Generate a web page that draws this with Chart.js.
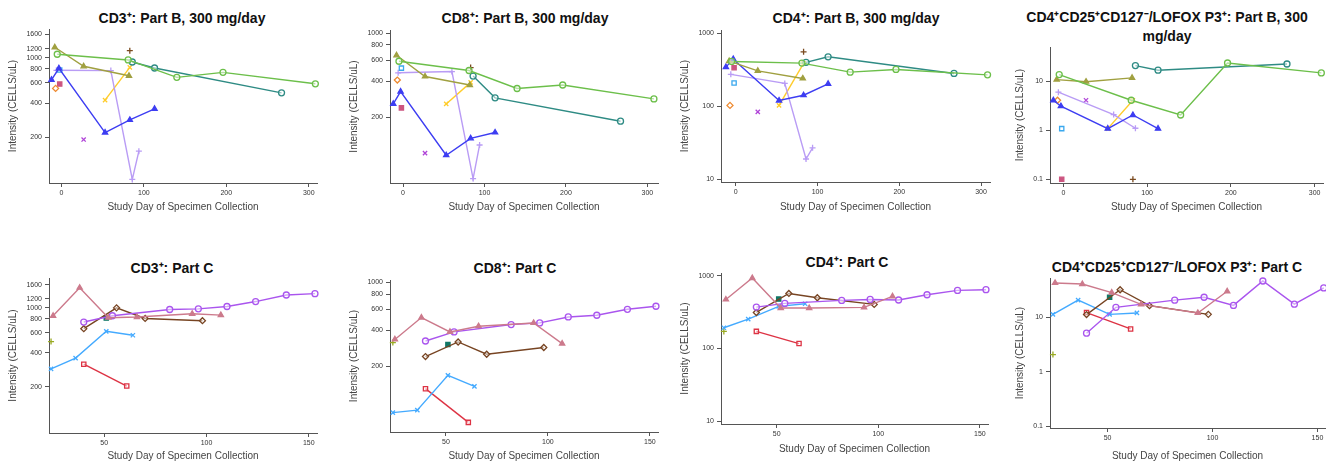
<!DOCTYPE html>
<html>
<head>
<meta charset="utf-8">
<script src="https://cdn.jsdelivr.net/npm/chart.js@4.4.0/dist/chart.umd.min.js"></script>
<style>
  body { margin: 0; width: 1326px; height: 465px; background: #fff; position: relative; overflow: hidden;
         font-family: 'Liberation Sans', Arial, sans-serif; }
  .ttl { position: absolute; transform: translate(-50%, -50%); font-weight: bold; font-size: 14px;
         color: #111; text-align: center; white-space: nowrap; line-height: 19px; }
</style>
</head>
<body>
<script>
// ---- Part B: study days per subject ----
const dB_green = [-5, 81, 140, 196, 308];
const dB_teal = [86, 113, 267];
const dB_olive = [-8, 27, 82];
const dB_blue = [-12, -3, 53, 83, 113];
const dB_ltblue = [-2];
const dB_lav = [-6, 60, 86, 94];
const dB_yellow = [53, 83];
const dB_brown = [83];
const dB_orange = [-7];
const dB_pink = [-2];
const dB_mag = [27];
const daysB = [dB_green, dB_teal, dB_olive, dB_blue, dB_ltblue, dB_lav, dB_yellow, dB_brown, dB_orange, dB_pink, dB_mag];

// values, same subject order as daysB
const cd3B = [[1070, 954, 672, 743, 590], [916, 811, 492], [1232, 840, 694], [640, 806, 221, 285, 356], [779],
  [775, 770, 86, 152], [425, 822], [1150], [538], [587], [192]];
const cd8B = [[586, 491, 348, 372, 285], [441, 291, 186], [657, 438, 372], [259, 328, 97, 134, 150], [514],
  [470, 481, 62, 118], [259, 391], [519], [409], [240], [101]];
const cd4B = [[412, 391, 294, 320, 270], [400, 477, 282], [417, 306, 241], [344, 443, 120, 142, 203], [209],
  [274, 206, 19, 27], [103, 387], [558], [103], [337], [84]];
const tregB = [[13.7, 4.1, 2.05, 23.6, 14.8], [20.9, 16.8, 22.5], [10.8, 9.8, 11.7], [4.1, 3.1, 1.08, 2.05, 1.08], [1.08],
  [6.0, 2.09, 1.1, null], [1.08, 4.1], [0.1], [4.1], [0.1], [4.1]];

// ---- Part C: study days per subject ----
const dC_mauve = [25, 38, 52, 66, 93, 107];
const dC_purple = [40, 54, 82, 96, 110, 124, 139, 153];
const dC_brown = [40, 56, 70, 98];
const dC_ltblue = [24, 36, 51, 64];
const dC_red = [40, 61];
const dC_teal = [51];
const dC_olive = [24];
const daysC = [dC_mauve, dC_purple, dC_brown, dC_ltblue, dC_red, dC_teal, dC_olive];

const cd3C = [[851, 1508, 818, 830, 887, 863], [749, 851, 967, 980, 1028, 1137, 1300, 1336], [654, 1000, 806, 770],
  [288, 359, 620, 572], [317, 203], [812], [503]];
const cd8C = [[335, 510, 387, 432, 460, 309], [325, 387, 446, 460, 516, 533, 598, 634], [241, 319, 252, 287],
  [82, 86, 168, 136], [130, 68], [304], [315]];
const cd4C = [[472, 930, 360, 360, 367, 520], [371, 417, 458, 472, 464, 548, 629, 643], [313, 571, 499, 404],
  [193, 254, 379, 412], [172, 117], [478], [172]];
const tregC = [[42.6, 40.7, 28.4, 17.2, 12, 30], [5.1, 15.2, 20.6, 23.3, 16.5, 46.3, 17.4, 34.5], [11.2, 32, 16.3, 11.3],
  [11.3, 20.6, 11.3, 12], [12.2, 6.1], [23.3], [2.07]];

// tick labels
const ticksCD3 = [200, 400, 600, 800, 1000, 1200, 1600];
const ticksCD8 = [200, 400, 600, 800, 1000];
const ticksDecade = [10, 100, 1000];
const ticksTreg = [0.1, 1, 10];
const ticksDayB = [0, 100, 200, 300];
const ticksDayC = [50, 100, 150];

// marker styles per subject
const stylesB = [
  { c: '#6cbf4a', p: 'circle', open: true },
  { c: '#2e8b84', p: 'circle', open: true },
  { c: '#a0a040', p: 'triangle' },
  { c: '#3d3df2', p: 'triangle' },
  { c: '#3aa8ee', p: 'rect', open: true },
  { c: '#b99cf5', p: 'cross' },
  { c: '#ffcc2a', p: 'crossRot' },
  { c: '#7a4a1e', p: 'cross' },
  { c: '#ee8a30', p: 'rectRot', open: true },
  { c: '#cc5580', p: 'rect' },
  { c: '#b044d8', p: 'crossRot' }
];
const stylesC = [
  { c: '#cc7a8c', p: 'triangle' },
  { c: '#aa55ee', p: 'circle', open: true },
  { c: '#774422', p: 'rectRot', open: true },
  { c: '#44aaff', p: 'crossRot' },
  { c: '#dd3344', p: 'rect', open: true },
  { c: '#117766', p: 'rect' },
  { c: '#99aa22', p: 'cross' }
];

const T4 = 'CD4\u207ACD25\u207ACD127\u207B/LOFOX P3\u207A';
const panels = [
  { title: 'CD3\u207A: Part B, 300 mg/day', tx: 182, ty: 18, L: 49, R: 317, T: 29, B: 183, xr: [-15, 310], yr: [80, 1780],
    yt: ticksCD3, xt: ticksDayB, days: daysB, vals: cd3B, st: stylesB, yo: 36, xo: 24 },
  { title: 'CD8\u207A: Part B, 300 mg/day', tx: 525, ty: 18, L: 390, R: 658, T: 30, B: 183, xr: [-16, 313], yr: [57, 1066],
    yt: ticksCD8, xt: ticksDayB, days: daysB, vals: cd8B, st: stylesB, yo: 36, xo: 24 },
  { title: 'CD4\u207A: Part B, 300 mg/day', tx: 856, ty: 18, L: 721, R: 990, T: 30, B: 182, xr: [-18, 311], yr: [9.2, 1110],
    yt: ticksDecade, xt: ticksDayB, days: daysB, vals: cd4B, st: stylesB, yo: 36, xo: 25 },
  { title: T4 + ': Part B, 300<br>mg/day', tx: 1167, ty: 27, L: 1050, R: 1323, T: 47, B: 183, xr: [-16, 310], yr: [0.084, 50],
    yt: ticksTreg, xt: ticksDayB, days: daysB, vals: tregB, st: stylesB, yo: 30, xo: 24 },
  { title: 'CD3\u207A: Part C', tx: 172, ty: 268, L: 49, R: 317, T: 278, B: 433, xr: [23, 154], yr: [78, 1838],
    yt: ticksCD3, xt: ticksDayC, days: daysC, vals: cd3C, st: stylesC, yo: 36, xo: 23 },
  { title: 'CD8\u207A: Part C', tx: 515, ty: 268, L: 390, R: 658, T: 280, B: 432, xr: [22.6, 154], yr: [56.5, 1050],
    yt: ticksCD8, xt: ticksDayC, days: daysC, vals: cd8C, st: stylesC, yo: 36, xo: 24 },
  { title: 'CD4\u207A: Part C', tx: 847, ty: 262, L: 721, R: 988, T: 273, B: 424, xr: [22.6, 154], yr: [9.2, 1090],
    yt: ticksDecade, xt: ticksDayC, days: daysC, vals: cd4C, st: stylesC, yo: 36, xo: 25 },
  { title: T4 + ': Part C', tx: 1177, ty: 267, L: 1050, R: 1325, T: 278, B: 428, xr: [22.6, 153.6], yr: [0.093, 52.5],
    yt: ticksTreg, xt: ticksDayC, days: daysC, vals: tregC, st: stylesC, yo: 30, xo: 28 }
];

Chart.defaults.font.family = "'Liberation Sans', Arial, sans-serif";
const YW = 46, XH = 40, PT = 10, PR = 12;

panels.forEach(p => {
  const t = document.createElement('div');
  t.className = 'ttl';
  t.style.left = p.tx + 'px';
  t.style.top = p.ty + 'px';
  t.innerHTML = p.title;
  document.body.appendChild(t);

  const cv = document.createElement('canvas');
  const w = p.R - p.L + YW + PR, h = p.B - p.T + PT + XH;
  cv.width = w; cv.height = h;
  cv.style.cssText = `position:absolute;left:${p.L - YW}px;top:${p.T - PT}px;width:${w}px;height:${h}px`;
  document.body.appendChild(cv);

  const datasets = p.st.map((s, k) => ({
    data: p.days[k].map((d, j) => ({ x: d, y: p.vals[k][j] })).filter(o => o.y != null),
    borderColor: s.c,
    backgroundColor: s.open ? 'rgba(255,255,255,0.5)' : s.c,
    pointStyle: s.p,
    pointRadius: 3,
    pointBorderWidth: 1.3,
    borderWidth: 1.4,
    tension: 0,
    clip: false
  }));

  new Chart(cv, {
    type: 'line',
    data: { datasets },
    options: {
      responsive: false,
      animation: false,
      layout: { padding: { left: 0, top: PT, right: PR, bottom: 0 } },
      plugins: { legend: { display: false }, tooltip: { enabled: false } },
      scales: {
        x: {
          type: 'linear', min: p.xr[0], max: p.xr[1],
          afterBuildTicks: sc => { sc.ticks = p.xt.map(v => ({ value: v })); },
          afterFit: sc => { sc.height = XH; sc.paddingLeft = 0; sc.paddingRight = 0; },
          ticks: { autoSkip: false, maxRotation: 0, padding: 2, color: '#333', font: { size: 7 } },
          grid: { display: true, drawOnChartArea: false, drawTicks: true, tickLength: 4, color: '#555' },
          border: { display: true, color: '#555', width: 1 },
          title: { display: true, text: 'Study Day of Specimen Collection', color: '#444', font: { size: 10 },
                   padding: { top: 0, bottom: XH - p.xo - 6 } }
        },
        y: {
          type: 'logarithmic', min: p.yr[0], max: p.yr[1],
          afterBuildTicks: sc => { sc.ticks = p.yt.map(v => ({ value: v })); },
          afterFit: sc => { sc.width = YW; sc.paddingTop = 0; sc.paddingBottom = 0; },
          ticks: { autoSkip: false, padding: 3, color: '#333', font: { size: 7 }, callback: v => String(v) },
          grid: { display: true, drawOnChartArea: false, drawTicks: true, tickLength: 4, color: '#555' },
          border: { display: true, color: '#555', width: 1 },
          title: { display: true, text: 'Intensity (CELLS/uL)', color: '#444', font: { size: 10 },
                   padding: { top: YW - p.yo - 6, bottom: 0 } }
        }
      }
    }
  });
});
</script>
</body>
</html>
